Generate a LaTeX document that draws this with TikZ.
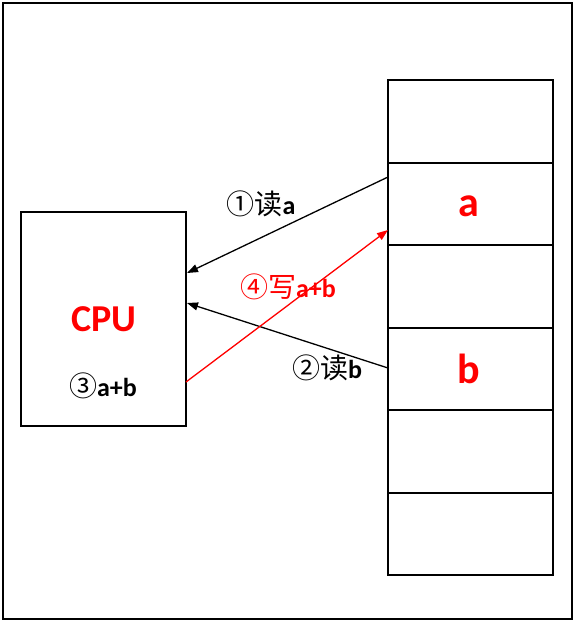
\documentclass[tikz,border=0pt]{standalone}
\usepackage{fontspec}
\setmainfont{Carlito}
\newfontfamily\cjk{Noto Sans CJK SC}
\usetikzlibrary{arrows.meta}
\definecolor{myred}{RGB}{255,0,0}
\newcommand{\cjkpart}[1]{{\cjk\mdseries\fontsize{28}{30}\selectfont #1}}
\begin{document}
\begin{tikzpicture}[x=1pt,y=-1pt,
  boxline/.style={draw=black,line width=2pt},
  conn/.style={line width=1.3pt,-{Triangle[length=11pt,width=8pt]}},
  lbl/.style={font=\fontsize{26}{30}\selectfont\bfseries, inner sep=0pt},
  cell/.style={font=\fontsize{42}{46}\selectfont\bfseries, text=myred, inner sep=0pt}
]
\useasboundingbox (0,0) rectangle (575,622);
\draw[boxline] (2.5,2.5) rectangle (571.5,619);
% CPU
\draw[boxline] (21,212) rectangle (186,426);
\coordinate (cpuA) at (187,273);
\coordinate (cpuB) at (187,303);
\coordinate (cpuC) at (186,382);
\node[font=\fontsize{38}{42}\selectfont\bfseries, text=myred, inner sep=0pt] (cpu) at (104,319) {CPU};
\node[lbl] (s3) at (103,386) {\cjkpart{③}a+b};
% memory
\foreach \y [count=\i] in {80,162.5,245,327.5,410,492.5} {
  \draw[boxline] (388,\y) rectangle (553,\y+82.5);
}
\coordinate (memA) at (388,177);
\coordinate (memB) at (388,368);
\coordinate (memW) at (388,230);
\node[cell] (va) at (469,206) {a};
\node[cell] (vb) at (469,369) {b};
% connectors
\draw[conn] (memA) -- (cpuA);
\draw[conn] (memB) -- (cpuB);
\draw[conn, draw=myred, fill=myred] (cpuC) -- (memW);
\node[lbl] (l1) at (261,204) {\cjkpart{①读}a};
\node[lbl, text=myred] (l4) at (288,287) {\cjkpart{④写}a+b};
\node[lbl] (l2) at (327,368) {\cjkpart{②读}b};
\end{tikzpicture}
\end{document}
